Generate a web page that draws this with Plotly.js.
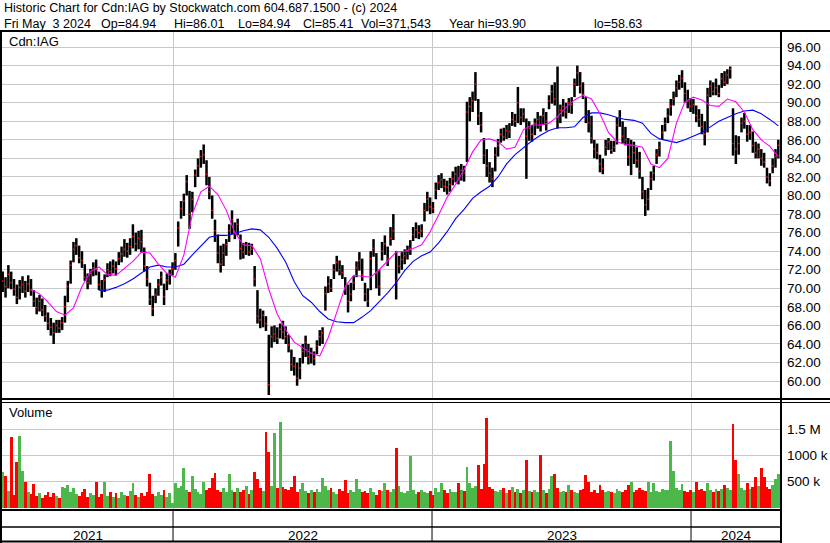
<!DOCTYPE html>
<html><head><meta charset="utf-8">
<script src="https://cdn.plot.ly/plotly-3.0.1.min.js"></script>
<style>html,body{margin:0;padding:0;background:#fff;}#chart{width:830px;height:543px;}</style>
</head><body><div id="chart"></div>
<script>
const symbol = 'Cdn:IAG';
const firstDate = '2021-05-06';
const lastDate = '2024-05-03';
const axisStart = '2021-05-05';
const axisEnd = '2024-05-06 19:00';
const lastOpen = 84.94, lastHigh = 86.01, lastLow = 84.94, lastClose = 85.41, lastVol = '371,543', yearHi = 93.90, yearLo = 58.63;

const closes = [
70.8,70.2,71.5,70.6,69.9,69.0,70.1,70.4,69.7,70.5,
69.8,68.6,67.9,68.6,67.7,67.0,66.2,65.8,65.2,66.0,
65.7,66.3,68.0,70.2,72.5,74.2,74.6,73.3,73.0,71.2,
70.6,71.6,72.2,72.0,70.4,69.8,70.9,72.0,71.8,72.4,
72.1,73.2,73.7,74.2,74.0,74.5,75.6,74.8,75.4,75.0,
72.4,71.0,68.8,67.8,69.3,70.4,71.2,69.1,70.9,71.6,
72.1,73.0,76.5,78.6,79.4,81.5,78.0,79.6,82.2,83.2,
84.2,84.4,82.3,80.4,78.4,76.2,73.8,72.6,73.8,74.7,
76.2,77.4,76.0,76.9,74.3,73.9,74.6,73.9,74.2,71.0,
67.0,66.6,67.1,66.2,59.6,64.8,65.1,64.6,65.6,65.3,
64.8,63.9,61.8,61.6,60.3,61.4,63.2,64.2,62.6,63.0,
62.4,63.8,64.8,65.2,69.4,70.5,70.0,72.0,72.8,72.0,
71.7,70.0,68.6,69.4,70.6,72.2,73.0,71.5,69.4,68.6,
73.2,74.3,71.6,70.2,74.0,74.8,73.2,75.4,76.2,70.8,
72.4,73.1,73.5,74.0,74.3,75.8,76.3,76.0,76.2,78.4,
79.6,78.8,78.6,80.6,81.4,81.7,81.0,80.9,81.2,81.8,
82.3,81.9,82.7,82.4,89.0,89.6,90.2,92.0,88.6,87.6,
84.3,83.2,82.4,81.8,84.4,85.4,86.6,86.3,87.0,86.9,
88.2,88.0,90.0,88.4,88.8,86.4,87.2,86.6,87.8,88.2,
87.6,88.6,88.0,90.2,91.2,90.4,88.4,89.2,89.6,89.0,
90.0,89.8,92.0,93.2,91.8,90.9,88.6,87.8,86.2,85.0,
84.6,83.4,82.9,85.2,85.8,84.9,85.2,87.6,88.4,86.4,
86.0,84.2,85.4,84.6,83.8,82.6,80.4,79.0,79.6,81.8,
82.4,84.4,85.2,86.8,87.8,88.6,89.6,90.4,91.6,92.2,
92.6,91.0,90.2,89.6,89.8,88.6,88.2,87.4,86.6,90.8,
91.8,91.2,91.6,91.0,92.6,92.2,93.0,93.6,85.6,85.0,
85.6,87.8,88.0,86.6,86.8,85.4,84.6,85.0,84.0,83.6,
82.0,81.6,83.2,84.2,85.41];

const highs = [
71.8,71.2,72.5,71.8,71.0,70.4,70.9,71.3,70.8,71.4,
71.0,69.8,69.0,69.3,68.9,68.2,67.4,66.8,66.3,66.6,
66.6,66.9,69.2,70.8,73.0,75.0,75.4,74.6,74.0,72.6,
71.6,72.1,72.8,73.1,71.8,70.9,71.5,72.7,72.9,73.1,
72.9,73.9,74.5,75.3,74.9,75.4,76.9,76.0,76.2,76.3,
74.4,72.4,70.6,69.2,70.0,71.0,71.8,70.5,71.6,72.0,
72.8,73.8,77.2,79.4,80.2,82.2,80.5,80.4,82.8,84.0,
84.9,85.5,83.8,82.0,80.0,77.4,75.8,74.6,74.8,75.3,
76.9,78.4,77.1,77.5,75.8,74.9,75.0,74.9,74.8,72.4,
69.8,67.8,67.6,67.0,65.0,65.9,66.0,65.8,66.2,66.5,
65.9,65.0,63.4,62.6,62.0,62.5,64.0,64.9,64.0,63.6,
63.2,64.4,65.5,65.8,70.2,71.3,71.0,72.6,73.5,73.0,
72.5,71.2,70.4,70.6,71.3,72.9,73.9,73.2,70.6,70.0,
74.0,75.3,73.8,72.0,75.0,75.7,74.5,76.6,78.0,74.0,
73.5,73.9,74.2,74.6,75.2,76.6,77.1,76.8,76.9,79.2,
80.4,79.8,79.3,81.4,82.2,82.4,81.8,81.6,81.9,82.6,
83.1,83.2,83.4,83.2,90.1,90.6,91.2,93.3,90.4,89.0,
86.2,85.0,83.6,83.0,85.2,86.1,87.2,87.3,87.6,87.8,
89.0,88.8,91.7,89.4,89.4,88.3,88.0,87.6,88.3,89.0,
88.6,89.4,89.0,90.8,91.9,92.2,93.9,89.8,90.4,90.0,
90.5,90.6,92.6,94.0,93.3,92.2,90.6,89.2,88.6,86.0,
85.6,84.4,84.0,86.0,86.2,85.9,85.9,88.4,89.2,88.0,
87.4,86.2,86.0,85.8,85.2,84.7,82.0,80.6,80.8,82.6,
83.2,85.0,85.8,87.6,88.4,89.4,90.4,91.2,92.4,93.0,
93.5,92.2,91.4,90.5,90.4,89.7,89.3,88.8,88.0,91.6,
92.4,92.2,92.6,91.9,93.2,93.4,93.6,93.9,89.4,86.5,
86.4,88.4,88.9,87.6,87.6,86.9,85.8,85.6,85.0,84.6,
83.0,82.4,84.0,85.0,86.01];

const lows = [
69.6,69.0,70.0,69.9,69.2,68.3,68.8,69.5,69.0,69.6,
69.2,68.0,67.2,67.5,67.0,66.4,65.5,64.9,64.0,65.2,
65.2,65.5,66.3,68.5,70.5,72.8,73.6,72.7,72.2,70.8,
69.9,70.4,71.3,71.4,69.8,69.0,69.6,71.2,71.3,71.6,
71.4,72.5,72.8,73.4,73.3,73.6,74.3,74.0,74.2,73.9,
71.8,70.2,68.2,67.0,68.4,69.2,70.3,68.2,69.8,70.4,
71.4,72.0,74.5,77.5,77.8,80.0,76.4,78.2,80.9,82.0,
83.0,83.4,81.1,79.6,77.5,75.0,72.7,71.7,72.4,73.5,
75.0,75.8,75.3,75.7,73.1,73.2,73.6,73.5,73.6,70.2,
66.2,65.7,65.8,65.4,58.5,63.6,64.2,64.0,64.6,64.5,
64.0,63.1,61.1,60.6,59.5,60.2,61.9,62.6,61.8,61.9,
61.7,62.9,63.8,64.0,67.6,69.5,69.6,71.0,71.8,71.4,
71.0,69.3,67.4,68.6,69.8,71.2,71.9,70.8,68.6,68.0,
69.8,73.4,70.0,69.2,73.0,73.6,72.4,74.6,75.2,68.8,
71.6,72.0,72.6,73.1,73.6,75.1,75.4,75.3,75.5,77.2,
78.3,78.0,78.1,79.6,80.6,80.8,80.4,80.1,80.4,81.1,
81.4,81.2,81.6,81.5,83.6,88.0,89.0,90.2,87.6,86.8,
83.4,82.0,81.4,80.9,82.6,84.2,85.7,85.9,86.1,86.2,
87.5,87.4,87.8,87.6,87.9,81.8,85.9,85.8,86.5,87.2,
86.9,87.6,87.0,89.3,89.9,89.7,87.2,87.8,88.5,88.3,
88.9,88.8,90.6,91.8,91.0,90.4,87.8,86.8,85.6,84.0,
83.9,82.5,82.3,84.3,84.9,84.5,84.7,85.5,87.4,85.6,
85.4,83.2,82.2,83.4,83.0,81.8,79.6,77.8,78.4,80.6,
81.6,83.4,84.2,86.0,86.9,87.8,88.6,89.7,90.6,91.4,
91.6,90.0,89.4,89.0,88.8,87.9,87.4,86.6,85.4,86.8,
90.6,90.8,90.8,90.6,91.6,91.8,92.0,92.6,84.3,83.4,
84.4,86.8,87.2,85.8,86.0,84.6,84.0,84.0,83.2,83.0,
81.3,81.0,82.4,83.0,84.0];

// volume in thousands of shares
const volumesK = [
690,600,320,1350,240,880,1380,710,500,300,
260,460,220,280,190,250,300,210,270,230,
180,400,380,430,300,380,260,230,290,360,
210,270,240,500,200,260,500,230,290,210,
270,190,300,240,220,310,470,250,200,280,
230,300,640,260,220,300,250,340,210,280,
80,470,380,420,760,330,290,600,350,300,
260,500,330,380,560,660,340,290,380,300,
640,330,300,380,290,340,410,260,330,680,
550,380,320,1450,1060,420,1430,380,1650,400,
350,330,390,615,300,360,470,320,280,340,
300,360,290,560,420,330,380,300,260,350,
310,520,280,330,300,540,360,290,320,280,
380,300,250,340,310,470,330,290,360,1140,
420,300,280,320,1000,330,260,300,340,290,
270,310,240,380,300,480,330,280,360,300,
290,470,330,310,770,480,380,420,810,360,
840,1720,400,360,310,300,340,380,280,330,
400,300,350,280,330,920,320,290,340,300,
1010,330,280,360,615,650,380,300,320,290,
430,340,300,280,330,360,620,500,300,340,
280,440,330,290,320,300,280,350,310,290,
330,440,500,300,340,380,330,320,500,300,
480,320,290,360,340,330,1270,710,380,330,
460,320,290,340,300,500,330,360,310,480,
340,300,360,320,350,440,380,330,1600,920,
650,380,340,470,360,400,580,420,760,580,
400,360,440,545,640];

// moving averages, one value every 3rd sample (starting at sample 1)
const maFast = [
null,null,null,69.9,69.4,68.5,67.5,67.1,67.9,70.2,
71.8,72.3,71.5,71.4,72.1,72.9,73.9,73.8,72.6,71.6,
71.2,73.6,78.0,80.4,81.0,80.1,78.4,76.0,74.7,74.6,
73.2,69.9,67.2,65.5,64.2,63.6,63.0,62.7,64.7,67.4,
70.2,71.4,71.3,71.2,72.0,72.9,73.9,74.0,74.3,74.7,
76.1,77.9,79.8,81.2,82.8,84.7,86.0,86.1,85.8,85.0,
85.2,87.1,87.6,87.6,87.8,88.5,89.5,90.3,90.8,90.4,
88.8,86.8,85.8,85.5,85.4,85.2,83.4,83.0,84.0,87.8,
90.1,90.6,90.3,89.7,89.6,90.4,90.1,89.0,87.1,86.0,
85.3,84.2];
const maSlow = [
null,null,null,null,null,null,null,null,null,null,
null,69.8,69.8,70.1,70.5,71.0,71.7,72.3,72.5,72.3,
72.3,72.6,73.6,74.6,75.5,75.7,75.7,75.9,76.2,76.4,
76.3,75.5,74.3,72.8,70.7,69.2,68.5,67.5,66.7,66.4,
66.3,66.3,66.9,67.6,68.5,69.5,70.6,71.9,72.9,73.5,
73.9,74.9,76.1,77.5,78.5,79.7,80.4,81.0,82.0,83.4,
84.4,85.2,85.9,86.5,87.0,87.3,87.3,87.4,88.4,88.9,
88.9,88.7,88.4,88.2,88.1,87.8,86.7,86.1,85.9,85.7,
86.0,86.4,86.8,87.4,88.0,88.4,88.8,89.1,89.2,88.8,
88.2,87.5];

const priceTicks = [60,62,64,66,68,70,72,74,76,78,80,82,84,86,88,90,92,94,96];
const volTicks = [500,1000,1500];
const volTickText = ['500 k','1000 k','1.5 M'];
const yearBounds = ['2022-01-01','2023-01-01','2024-01-01'];
const yearLabels = ['2021','2022','2023','2024'];

// ---- build ----
const t0 = Date.parse(firstDate + 'T00:00:00Z'), t1 = Date.parse(lastDate + 'T00:00:00Z');
const n = closes.length;
const fmt = t => new Date(t).toISOString().slice(0,19).replace('T',' ');
const dates = closes.map((_, i) => fmt(t0 + (t1 - t0) * i / (n - 1)));
const maDates = maFast.map((_, k) => dates[1 + 3 * k]);

const segX = [], segY = [];
dates.forEach((d, i) => { segX.push(d, d, null); segY.push(lows[i], highs[i], null); });

const volColors = closes.map((c, i) => {
  if (i === 0) return '#4cb84c';
  if (c > closes[i-1]) return '#4cb84c';
  if (c < closes[i-1]) return '#ff0000';
  return '#a8a8a8';
});

const W = 830, H = 543;
const px = v => v / W, py = v => 1 - v / H;
const xDomain = [px(2), px(781)];
const grid = '#c8c8c8';
const font = 'Liberation Sans, Arial, sans-serif';

const traces = [
  {type:'scatter', mode:'lines', x:segX, y:segY, line:{color:'#000', width:2.5}, xaxis:'x', yaxis:'y', hoverinfo:'skip'},
  {type:'scatter', mode:'markers', x:dates, y:closes, marker:{symbol:'square', size:1.5, color:'#ff0000', line:{width:0}}, xaxis:'x', yaxis:'y', hoverinfo:'skip'},
  {type:'scatter', mode:'lines', x:maDates, y:maSlow, line:{color:'#0000ff', width:1.1}, xaxis:'x', yaxis:'y', connectgaps:false},
  {type:'scatter', mode:'lines', x:maDates, y:maFast, line:{color:'#ff00ff', width:1.1}, xaxis:'x', yaxis:'y', connectgaps:false},
  {type:'bar', x:dates, y:volumesK, marker:{color:volColors, line:{width:0}}, xaxis:'x2', yaxis:'y2'}
];

const lineShape = (x0, y0, x1, y1, w, xref) => ({type:'line', xref: xref || 'paper', yref:'paper', x0, y0, x1, y1, line:{color:'#000', width:w}});
const shapes = [
  lineShape(0, py(31), 1, py(31), 2),
  lineShape(0, py(399), 1, py(399), 2),
  lineShape(0, py(402.5), 1, py(402.5), 1),
  lineShape(0, py(510), px(782), py(510), 2),
  lineShape(0, py(527), px(782), py(527), 1.5),
  lineShape(0, py(541.5), px(782), py(541.5), 2),
  lineShape(px(1), py(31), px(1), 0, 2),
  lineShape(px(781), py(31), px(781), 0, 2)
];
yearBounds.forEach(b => shapes.push(lineShape(b, py(510), b, py(541), 1, 'x')));

function toMs(s){ return s.length > 10 ? Date.parse(s.replace(' ','T') + ':00Z') : Date.parse(s + 'T00:00:00Z'); }
const bounds = [axisStart].concat(yearBounds, [axisEnd]);

const headFont = {family:font, size:12.5, color:'#000'};
const headerFields = [
  ['Fri May\u00a0 3 2024', 2],
  ['Op=' + lastOpen.toFixed(2), 99],
  ['Hi=' + lastHigh.toFixed(2), 172],
  ['Lo=' + lastLow.toFixed(2), 236],
  ['Cl=' + lastClose.toFixed(2), 301],
  ['Vol=' + lastVol, 359],
  ['Year hi=' + yearHi.toFixed(2), 447],
  ['lo=' + yearLo.toFixed(2), 592]
];
const annotations = [
  {xref:'paper', yref:'paper', x:px(2), y:py(8), xanchor:'left', yanchor:'middle', showarrow:false,
   text:'Historic Chart for ' + symbol + ' by Stockwatch.com 604.687.1500 - (c) 2024', font:headFont},
  {xref:'paper', yref:'paper', x:px(7), y:py(41), xanchor:'left', yanchor:'middle', showarrow:false, text:symbol, font:{family:font, size:13, color:'#000'}},
  {xref:'paper', yref:'paper', x:px(7), y:py(413), xanchor:'left', yanchor:'middle', showarrow:false, text:'Volume', font:{family:font, size:13, color:'#000'}}
];
headerFields.forEach(f => annotations.push({xref:'paper', yref:'paper', x:px(f[1]), y:py(24), xanchor:'left', yanchor:'middle',
  showarrow:false, text:f[0], font:headFont}));
yearLabels.forEach((lab, i) => {
  const a = toMs(bounds[i]), b = toMs(bounds[i+1]);
  annotations.push({xref:'x', yref:'paper', x:fmt((a + b) / 2), y:py(535), xanchor:'center', yanchor:'middle', showarrow:false,
    text:lab, font:{family:font, size:13.5, color:'#000'}});
});

const layout = {
  width:W, height:H, margin:{l:0, r:0, t:0, b:0}, paper_bgcolor:'#fff', plot_bgcolor:'#fff',
  showlegend:false, bargap:0, hovermode:false,
  font:{family:font, size:13.5, color:'#000'},
  xaxis:{type:'date', domain:xDomain, range:[axisStart, axisEnd], tickvals:yearBounds, showticklabels:false,
         showgrid:true, gridcolor:grid, gridwidth:1, zeroline:false, showline:false, ticks:'', anchor:'y'},
  yaxis:{domain:[py(398), py(32)], range:[58.18, 97.62], side:'right', tickvals:priceTicks, tickformat:'.2f',
         showgrid:true, gridcolor:grid, gridwidth:1, zeroline:false, showline:false, ticks:'', ticklabelstandoff:5, anchor:'x'},
  xaxis2:{type:'date', domain:xDomain, range:[axisStart, axisEnd], tickvals:yearBounds, showticklabels:false,
          showgrid:true, gridcolor:grid, gridwidth:1, zeroline:false, showline:false, ticks:'', anchor:'y2'},
  yaxis2:{domain:[py(509), py(403)], range:[-28.8, 2009.6], side:'right', tickvals:volTicks, ticktext:volTickText,
          showgrid:true, gridcolor:grid, gridwidth:1, zeroline:false, showline:false, ticks:'', ticklabelstandoff:5, anchor:'x2'},
  shapes, annotations
};

Plotly.newPlot('chart', traces, layout, {staticPlot:true, displayModeBar:false});
</script></body></html>
